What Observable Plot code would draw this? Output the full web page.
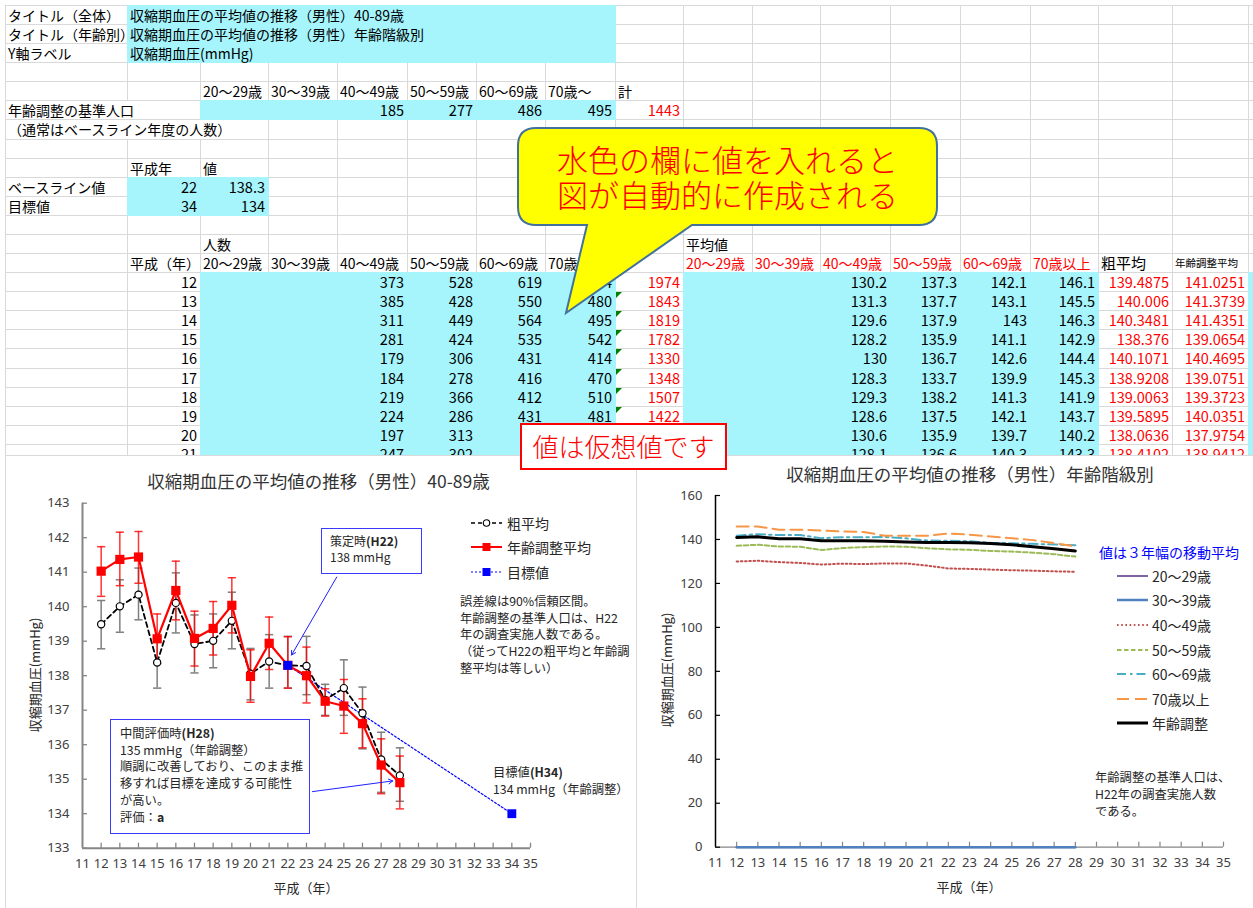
<!DOCTYPE html>
<html><head><meta charset="utf-8">
<script src="https://cdn.jsdelivr.net/npm/d3@7"></script>
<script src="https://cdn.jsdelivr.net/npm/@observablehq/plot@0.6"></script>
<style>
body{margin:0;background:#fff;}
#page{position:relative;width:1253px;height:908px;overflow:hidden;background:#fff;font-family:"Noto Sans CJK JP",sans-serif;color:#000;}
#sheet{position:absolute;left:0;top:0;width:1253px;height:470px;font-family:"Noto Sans CJK JP",sans-serif;}
.num{font-family:"Liberation Sans Narrow","Noto Sans CJK JP",sans-serif;}
.a{position:absolute;white-space:nowrap;}
.ctext{position:absolute;white-space:nowrap;color:#262626;font-family:"Noto Sans CJK JP",sans-serif;}
</style></head>
<body><div id="page"><div id="sheet"></div></div>
<script>
// ---------------- data ----------------
const titleAll = "収縮期血圧の平均値の推移（男性）40-89歳";
const titleAge = "収縮期血圧の平均値の推移（男性）年齢階級別";
const yLabel = "収縮期血圧(mmHg)";
const xLabel = "平成（年）";
const ageHeadCount = ["20～29歳","30～39歳","40～49歳","50～59歳","60～69歳","70歳～"];
const ageHeadMean = ["20～29歳","30～39歳","40～49歳","50～59歳","60～69歳","70歳以上"];
const stdPop = [null, null, 185, 277, 486, 495];
const stdPopTotal = 1443;
const baselineYear = 22, baselineValue = 138.3;
const targetYear = 34, targetValue = 134;

// table rows H12–H21 (H21 is cut off by the charts; hidden cells left empty)
const tableYears = [12,13,14,15,16,17,18,19,20,21];
const n40 = [373,385,311,281,179,184,219,224,197,247];
const n50 = [528,428,449,424,306,278,366,286,313,302];
const n60 = [619,550,564,535,431,416,412,431,null,null];
const n70 = [454,480,495,542,414,470,510,481,null,null];
const nTotal = [1974,1843,1819,1782,1330,1348,1507,1422,null,null];
const m40 = [130.2,131.3,129.6,128.2,130,128.3,129.3,128.6,130.6,128.1];
const m50 = [137.3,137.7,137.9,135.9,136.7,133.7,138.2,137.5,135.9,136.6];
const m60 = [142.1,143.1,143,141.1,142.6,139.9,141.3,142.1,139.7,140.3];
const m70 = [146.1,145.5,146.3,142.9,144.4,145.3,141.9,143.7,140.2,143.3];
const mCrude = ["139.4875","140.006","140.3481","138.376","140.1071","138.9208","139.0063","139.5895","138.0636","138.4102"];
const mAdj = ["141.0251","141.3739","141.4351","139.0654","140.4695","139.0751","139.3723","140.0351","137.9754","138.9412"];

// left chart (H12–H28)
const chartYears = [12,13,14,15,16,17,18,19,20,21,22,23,24,25,26,27,28];
const crude   = [139.49,140.01,140.35,138.38,140.11,138.92,139.01,139.59,138.06,138.41,138.30,138.28,137.30,137.64,136.91,135.57,135.11];
const crudeLo = [138.78,139.26,139.62,137.64,139.24,138.08,138.23,138.78,137.30,137.64,137.64,137.45,136.85,136.85,135.88,134.62,134.36];
const crudeHi = [140.18,140.78,141.12,139.12,140.98,139.76,139.79,140.42,138.79,139.19,139.14,139.14,137.75,138.46,137.67,136.36,135.91];
const adjusted= [141.03,141.37,141.44,139.07,140.47,139.08,139.37,140.04,137.98,138.94,138.30,138.00,137.26,137.12,136.61,135.41,134.90];
const adjLo   = [140.30,140.61,140.68,138.35,139.62,138.28,138.60,139.24,137.23,138.18,137.64,137.21,136.83,136.33,135.91,134.58,134.14];
const adjHi   = [141.74,142.16,142.18,139.79,141.32,139.87,140.15,140.84,138.75,139.70,139.13,138.83,137.62,137.89,137.33,136.17,135.67];

// right chart: 3-year moving averages
const maYears = [12,13,14,15,16,17,18,19,20,21,22,23,24,25,26,27,28];
const ma20 = [0,0,0,0,0,0,0,0,0,0,0,0,0,0,0,0,0];
const ma30 = [0,0,0,0,0,0,0,0,0,0,0,0,0,0,0,0,0];
const ma40 = [130.0,130.3,129.7,129.3,128.6,129.0,128.8,129.1,129.1,128.1,126.8,126.6,126.3,126.0,125.8,125.5,125.3];
const ma50 = [137.1,137.6,136.8,136.7,135.2,136.1,136.5,136.8,136.7,136.0,135.5,135.3,134.8,134.5,134.0,133.3,132.2];
const ma60 = [141.7,142.4,142.0,142.0,140.6,141.0,141.0,141.1,140.5,139.5,139.4,139.2,138.5,138.3,138.0,137.7,137.4];
const ma70 = [145.9,145.9,144.4,144.4,144.1,143.6,143.4,141.7,141.7,141.7,142.7,142.2,141.3,140.6,139.7,138.3,136.8];
const maAdj= [140.9,141.2,140.3,140.3,139.4,139.4,139.4,139.2,138.9,138.6,138.6,138.5,138.2,137.6,136.7,135.8,134.8];
const maNames = ["20～29歳","30～39歳","40～49歳","50～59歳","60～69歳","70歳以上","年齢調整"];

// ---------------- spreadsheet ----------------
const page = document.getElementById("page");
const sheet = document.getElementById("sheet");
const colX = [5,127,200,268,337,407,476,545,615,683,752,820,890,960,1030,1098,1172,1248,1253];
const RH = 19.08, R0 = 5;
const rowTop = r => R0 + r * RH;
function box(parent, x, y, w, h, style) {
  const d = document.createElement("div");
  d.className = "a";
  d.style.cssText += `left:${x}px;top:${y}px;width:${w}px;height:${h}px;${style || ""}`;
  parent.appendChild(d); return d;
}
for (let r = 0; r <= 24; r++) box(sheet, 5, rowTop(r), 1248, 1, "background:#d9d9d9");
for (let c = 0; c < colX.length - 1; c++) box(sheet, colX[c], 5, 1, 24 * RH + 10, "background:#d9d9d9");
function fill(c1, c2, r1, r2, color) {
  const w = color === "#fff";
  box(sheet, colX[c1] + (w ? 1 : 0), rowTop(r1) + (w ? 1 : 0), colX[c2] - colX[c1] + (w ? -1 : 1), rowTop(r2) - rowTop(r1) + (w ? -1 : 1), "background:" + color);
}
const CY = "#a6f4fc";
fill(0, 3, 6, 7, "#fff");
fill(0, 2, 5, 6, "#fff");
fill(1, 8, 0, 3, CY);
fill(2, 8, 5, 6, CY);
fill(1, 3, 9, 11, CY);
fill(2, 8, 14, 24, CY);
fill(9, 15, 14, 24, CY);
fill(17, 18, 14, 24, CY);
// the last table row is cut off by the chart panels: clip it
const clipRow = 23;
const clipBox = box(sheet, 0, rowTop(clipRow), 1253, 455 - rowTop(clipRow), "overflow:hidden;");
function txt(c1, c2, r, text, opt = {}) {
  const align = opt.align || "left", color = opt.color || "#000", size = opt.size || 14;
  const parent = r === clipRow ? clipBox : sheet;
  const yOff = r === clipRow ? 0 : rowTop(r);
  const d = box(parent, colX[c1] + 3, yOff + 1, colX[c2] - colX[c1] - 6, RH - 1,
    `font-size:${size}px;line-height:${RH - 1}px;color:${color};text-align:${align};overflow:visible`);
  if (opt.num) d.classList.add("num");
  d.textContent = text;
}
txt(0, 1, 0, "タイトル（全体）"); txt(1, 8, 0, titleAll);
txt(0, 1, 1, "タイトル（年齢別）"); txt(1, 8, 1, titleAge);
txt(0, 1, 2, "Y軸ラベル"); txt(1, 8, 2, yLabel);
ageHeadCount.forEach((h, i) => txt(2 + i, 3 + i, 4, h));
txt(8, 9, 4, "計");
txt(0, 3, 5, "年齢調整の基準人口");
stdPop.forEach((v, i) => { if (v != null) txt(2 + i, 3 + i, 5, String(v), {align: "right", num: true, size: 14.5}); });
txt(8, 9, 5, String(stdPopTotal), {align: "right", color: "#ff0000", num: true, size: 14.5});
txt(0, 3, 6, "（通常はベースライン年度の人数）");
txt(1, 2, 8, "平成年"); txt(2, 3, 8, "値");
txt(0, 1, 9, "ベースライン値"); txt(1, 2, 9, String(baselineYear), {align: "right", num: true, size: 14.5}); txt(2, 3, 9, String(baselineValue), {align: "right", num: true, size: 14.5});
txt(0, 1, 10, "目標値"); txt(1, 2, 10, String(targetYear), {align: "right", num: true, size: 14.5}); txt(2, 3, 10, String(targetValue), {align: "right", num: true, size: 14.5});
txt(2, 3, 12, "人数"); txt(9, 10, 12, "平均値");
txt(1, 2, 13, "平成（年）");
ageHeadCount.forEach((h, i) => txt(2 + i, 3 + i, 13, h));
ageHeadMean.forEach((h, i) => txt(9 + i, 10 + i, 13, h, {color: "#ff0000"}));
txt(15, 16, 13, "粗平均", {size: 15});
txt(16, 17, 13, "年齢調整平均", {size: 10.5});
tableYears.forEach((yr, i) => {
  const r = 14 + i, o = {align: "right", num: true, size: 14.5}, red = {align: "right", num: true, size: 14.5, color: "#ff0000"};
  const put = (c, v, st) => { if (v != null) txt(c, c + 1, r, String(v), st); };
  put(1, yr, o);
  put(4, n40[i], o); put(5, n50[i], o); put(6, n60[i], o); put(7, n70[i], o);
  put(8, nTotal[i], red);
  put(11, m40[i], o); put(12, m50[i], o); put(13, m60[i], o); put(14, m70[i], o);
  put(15, mCrude[i], red); put(16, mAdj[i], red);
  if (i >= 1 && i <= 7) {
    const t = document.createElementNS("http://www.w3.org/2000/svg", "svg");
    t.setAttribute("width", 7); t.setAttribute("height", 7);
    t.style.cssText = `position:absolute;left:${colX[8] + 1}px;top:${rowTop(r) + 1}px`;
    t.innerHTML = '<path d="M0,0H6L0,6Z" fill="#008000"/>';
    sheet.appendChild(t);
  }
});

// ---------------- chart panels ----------------
box(page, 5, 455, 632, 453, "background:#fff;border-top:1px solid #d9d9d9;border-left:1px solid #d9d9d9;border-right:1px solid #d9d9d9;box-sizing:border-box;z-index:1");
box(page, 637, 455, 616, 453, "background:#fff;border-top:1px solid #d9d9d9;box-sizing:border-box;z-index:1");

function ctext(x, y, html, style) {
  const d = document.createElement("div");
  d.className = "ctext";
  d.style.cssText += `left:${x}px;top:${y}px;z-index:3;${style || ""}`;
  d.innerHTML = html; page.appendChild(d); return d;
}
function place(svg, x, y) {
  svg.style.position = "absolute"; svg.style.left = x + "px"; svg.style.top = y + "px"; svg.style.zIndex = 2;
  page.appendChild(svg);
}

// ---------------- left chart ----------------
const leftRows = chartYears.map((yr, i) => ({year: yr, crude: crude[i], cLo: crudeLo[i], cHi: crudeHi[i], adj: adjusted[i], aLo: adjLo[i], aHi: adjHi[i]}));
const targetRows = [{year: baselineYear, value: baselineValue}, {year: targetYear, value: targetValue}];
const noteArrows = [
  {x1: 24.62, y1: 140.86, x2: 22.2, y2: 138.6},
  {x1: 23.32, y1: 134.64, x2: 27.62, y2: 134.95}
];
const xTicksL = d3.range(11, 36);
const yTicksL = d3.range(133, 144);
const capW = 0.22;
const left = Plot.plot({
  width: 632, height: 450,
  marginLeft: 77, marginRight: 107, marginTop: 44.7, marginBottom: 60.3,
  style: {fontFamily: '"Noto Sans","Noto Sans CJK JP",sans-serif', fontSize: "12.5px", color: "#404040", background: "transparent"},
  x: {domain: [11, 35]},
  y: {domain: [133, 143]},
  marks: [
    Plot.axisX({ticks: xTicksL, tickSize: 0, tickPadding: 11, tickFormat: d => String(d), label: null, fontSize: 13}),
    Plot.axisY({ticks: yTicksL, tickSize: 0, tickPadding: 13, tickFormat: d => String(d), label: null, fontSize: 13}),
    Plot.tickX(xTicksL.slice(1), {x: d => d, insetTop: 340, stroke: "#868686", strokeWidth: 1.3}),
    Plot.tickY(yTicksL, {y: d => d, insetRight: 443, stroke: "#868686", strokeWidth: 1.3}),
    Plot.ruleX([11], {stroke: "#868686", strokeWidth: 2}),
    Plot.ruleY([133], {stroke: "#868686", strokeWidth: 2}),
    Plot.line(targetRows, {x: "year", y: "value", stroke: "#0000ff", strokeWidth: 1.2, strokeDasharray: "2,2"}),
    Plot.ruleX(leftRows, {x: "year", y1: "cLo", y2: "cHi", stroke: "#7f7f7f", strokeWidth: 1.5}),
    Plot.link(leftRows, {x1: d => d.year - capW, x2: d => d.year + capW, y1: "cLo", y2: "cLo", stroke: "#7f7f7f", strokeWidth: 1.5}),
    Plot.link(leftRows, {x1: d => d.year - capW, x2: d => d.year + capW, y1: "cHi", y2: "cHi", stroke: "#7f7f7f", strokeWidth: 1.5}),
    Plot.ruleX(leftRows, {x: "year", y1: "aLo", y2: "aHi", stroke: "#ff0000", strokeWidth: 1.5, strokeOpacity: 0.8}),
    Plot.link(leftRows, {x1: d => d.year - capW, x2: d => d.year + capW, y1: "aLo", y2: "aLo", stroke: "#ff0000", strokeWidth: 1.5, strokeOpacity: 0.8}),
    Plot.link(leftRows, {x1: d => d.year - capW, x2: d => d.year + capW, y1: "aHi", y2: "aHi", stroke: "#ff0000", strokeWidth: 1.5, strokeOpacity: 0.8}),
    Plot.line(leftRows, {x: "year", y: "crude", stroke: "#000", strokeWidth: 1.8, strokeDasharray: "5,3.5"}),
    Plot.dot(leftRows, {x: "year", y: "crude", r: 3.6, fill: "#fff", stroke: "#000", strokeWidth: 1.2}),
    Plot.line(leftRows, {x: "year", y: "adj", stroke: "#ff0000", strokeWidth: 2.2}),
    Plot.dot(leftRows, {x: "year", y: "adj", r: 5.2, symbol: "square", fill: "#ff0000", stroke: null}),
    Plot.dot(targetRows, {x: "year", y: "value", r: 5, symbol: "square", fill: "#0000ff", stroke: null}),
    Plot.arrow(noteArrows, {x1: "x1", y1: "y1", x2: "x2", y2: "y2", stroke: "#2020ff", strokeWidth: 1, headLength: 7})
  ]
});
place(left, 5, 458);

ctext(0, 468, titleAll, "width:637px;text-align:center;font-size:17.5px;line-height:26px;color:#333");
ctext(-25, 666, yLabel, "width:120px;text-align:center;font-size:13px;line-height:18px;transform:rotate(-90deg);");
ctext(256, 878, xLabel, "width:100px;text-align:center;font-size:13px;line-height:20px;");

function legendSample(x, y, w, line, marker) {
  const s = document.createElementNS("http://www.w3.org/2000/svg", "svg");
  s.setAttribute("width", w); s.setAttribute("height", 14);
  s.style.cssText = `position:absolute;left:${x}px;top:${y - 7}px;z-index:3;overflow:visible`;
  s.innerHTML = line + (marker || "");
  page.appendChild(s);
}
legendSample(471, 523, 31, '<line x1="0" y1="7" x2="31" y2="7" stroke="#000" stroke-width="1.6" stroke-dasharray="4,3"/>', '<circle cx="15.5" cy="7" r="3.2" fill="#fff" stroke="#000" stroke-width="1.1"/>');
legendSample(471, 547, 31, '<line x1="0" y1="7" x2="31" y2="7" stroke="#ff0000" stroke-width="2"/>', '<rect x="11.5" y="3" width="8" height="8" fill="#ff0000"/>');
legendSample(471, 572, 31, '<line x1="0" y1="7" x2="31" y2="7" stroke="#0000ff" stroke-width="1.1" stroke-dasharray="2,2"/>', '<rect x="11.5" y="3" width="8" height="8" fill="#0000ff"/>');
ctext(507, 513, "粗平均", "font-size:14px;line-height:20px;");
ctext(507, 537, "年齢調整平均", "font-size:14px;line-height:20px;");
ctext(507, 562, "目標値", "font-size:14px;line-height:20px;");

ctext(460, 593, "誤差線は90%信頼区間。<br>年齢調整の基準人口は、H22<br>年の調査実施人数である。<br>（従ってH22の粗平均と年齢調<br>整平均は等しい）", "font-size:12.3px;line-height:16.7px;");

ctext(321, 528, "策定時<b>(H22)</b><br>138 mmHg", "width:101px;height:46px;box-sizing:border-box;border:1.3px solid #3a3aff;background:#fff;padding:4px 0 0 8px;font-size:12px;line-height:16px;");
ctext(110, 719, "中間評価時<b>(H28)</b><br>135 mmHg（年齢調整）<br>順調に改善しており、このまま推<br>移すれば目標を達成する可能性<br>が高い。<br>評価：<b>a</b>", "width:200px;height:115px;box-sizing:border-box;border:1.3px solid #3a3aff;background:#fff;padding:5px 0 0 9px;font-size:12.3px;line-height:16.7px;");
ctext(493, 764, "目標値<b>(H34)</b><br>134 mmHg（年齢調整）", "font-size:12.3px;line-height:17px;");

// ---------------- right chart ----------------
const maValues = [ma20, ma30, ma40, ma50, ma60, ma70, maAdj];
const maStyle = [
  {stroke: "#8064a2", width: 2, dash: null},
  {stroke: "#4f81bd", width: 2.5, dash: null},
  {stroke: "#c0504d", width: 2, dash: "1.6,2.6"},
  {stroke: "#9bbb59", width: 2, dash: "4.5,2.5"},
  {stroke: "#4bacc6", width: 2, dash: "9,4,2.5,4"},
  {stroke: "#f79646", width: 2, dash: "12,6"},
  {stroke: "#000000", width: 3, dash: null}
];
const xTicksR = d3.range(11, 36);
const yTicksR = d3.range(0, 161, 20);
const seriesMarks = maValues.map((vals, k) => Plot.line(maYears.map((yr, i) => ({year: yr, v: vals[i]})), {
  x: "year", y: "v", stroke: maStyle[k].stroke, strokeWidth: maStyle[k].width, strokeDasharray: maStyle[k].dash
}));
const right = Plot.plot({
  width: 615, height: 450,
  marginLeft: 77, marginRight: 30, marginTop: 37, marginBottom: 61.3,
  style: {fontFamily: '"Noto Sans","Noto Sans CJK JP",sans-serif', fontSize: "12.5px", color: "#404040", background: "transparent"},
  x: {domain: [11, 35]},
  y: {domain: [0, 160]},
  marks: [
    Plot.axisX({ticks: xTicksR, tickSize: 0, tickPadding: 11, tickFormat: d => String(d), label: null, fontSize: 13}),
    Plot.axisY({ticks: yTicksR, tickSize: 0, tickPadding: 13, tickFormat: d => String(d), label: null, fontSize: 13}),
    Plot.ruleY([0], {stroke: "#868686", strokeWidth: 1.3}),
    Plot.tickX(xTicksR.slice(1), {x: d => d, insetTop: 346.7, stroke: "#868686", strokeWidth: 1.2}),
    Plot.tickY(yTicksR, {y: d => d, insetRight: 503, stroke: "#000", strokeWidth: 1.2}),
    Plot.ruleX([11], {stroke: "#000", strokeWidth: 1.5}),
    ...seriesMarks
  ]
});
place(right, 638, 458);

ctext(700, 461, titleAge, "width:540px;text-align:center;font-size:17.5px;line-height:26px;color:#333");
ctext(607, 661, yLabel, "width:120px;text-align:center;font-size:13px;line-height:18px;transform:rotate(-90deg);");
ctext(919, 877, xLabel, "width:100px;text-align:center;font-size:13px;line-height:20px;");

ctext(1099, 542, "値は３年幅の移動平均", "font-size:14px;line-height:20px;color:#0000ff;");
const legY = [575.7, 600.3, 624.9, 649.5, 674.1, 698.7, 723.3];
maNames.forEach((nm, k) => {
  const st = maStyle[k];
  legendSample(1117, legY[k], 31, `<line x1="0" y1="7" x2="31" y2="7" stroke="${st.stroke}" stroke-width="${st.width}" ${st.dash ? `stroke-dasharray="${st.dash}"` : ""}/>`);
  ctext(1152, legY[k] - 10, nm, "font-size:14px;line-height:20px;");
});
ctext(1095, 769, "年齢調整の基準人口は、<br>H22年の調査実施人数<br>である。", "font-size:12.3px;line-height:17px;");

// ---------------- overlays ----------------
box(page, 520, 423, 207, 47, "background:#fff;border:2px solid #ff0000;box-sizing:border-box;z-index:5;");
ctext(520, 423, "値は仮想値です", "z-index:6;width:207px;height:47px;text-align:center;font-size:26px;line-height:45px;color:#ff0000;font-weight:300;");

const call = document.createElementNS("http://www.w3.org/2000/svg", "svg");
call.setAttribute("width", 1253); call.setAttribute("height", 340);
call.style.cssText = "position:absolute;left:0;top:0;z-index:7;pointer-events:none";
call.innerHTML = '<path d="M536,128 H919 Q937,128 937,146 V207 Q937,225 919,225 H692 L566,313 L587,225 H536 Q518,225 518,207 V146 Q518,128 536,128 Z" fill="#ffff00" stroke="#41719c" stroke-width="2"/>';
page.appendChild(call);
ctext(518, 141, "水色の欄に値を入れると<br>図が自動的に作成される", "z-index:8;width:419px;text-align:center;font-size:31px;line-height:35px;color:#ff0000;font-weight:300;");
</script>
</body></html>
